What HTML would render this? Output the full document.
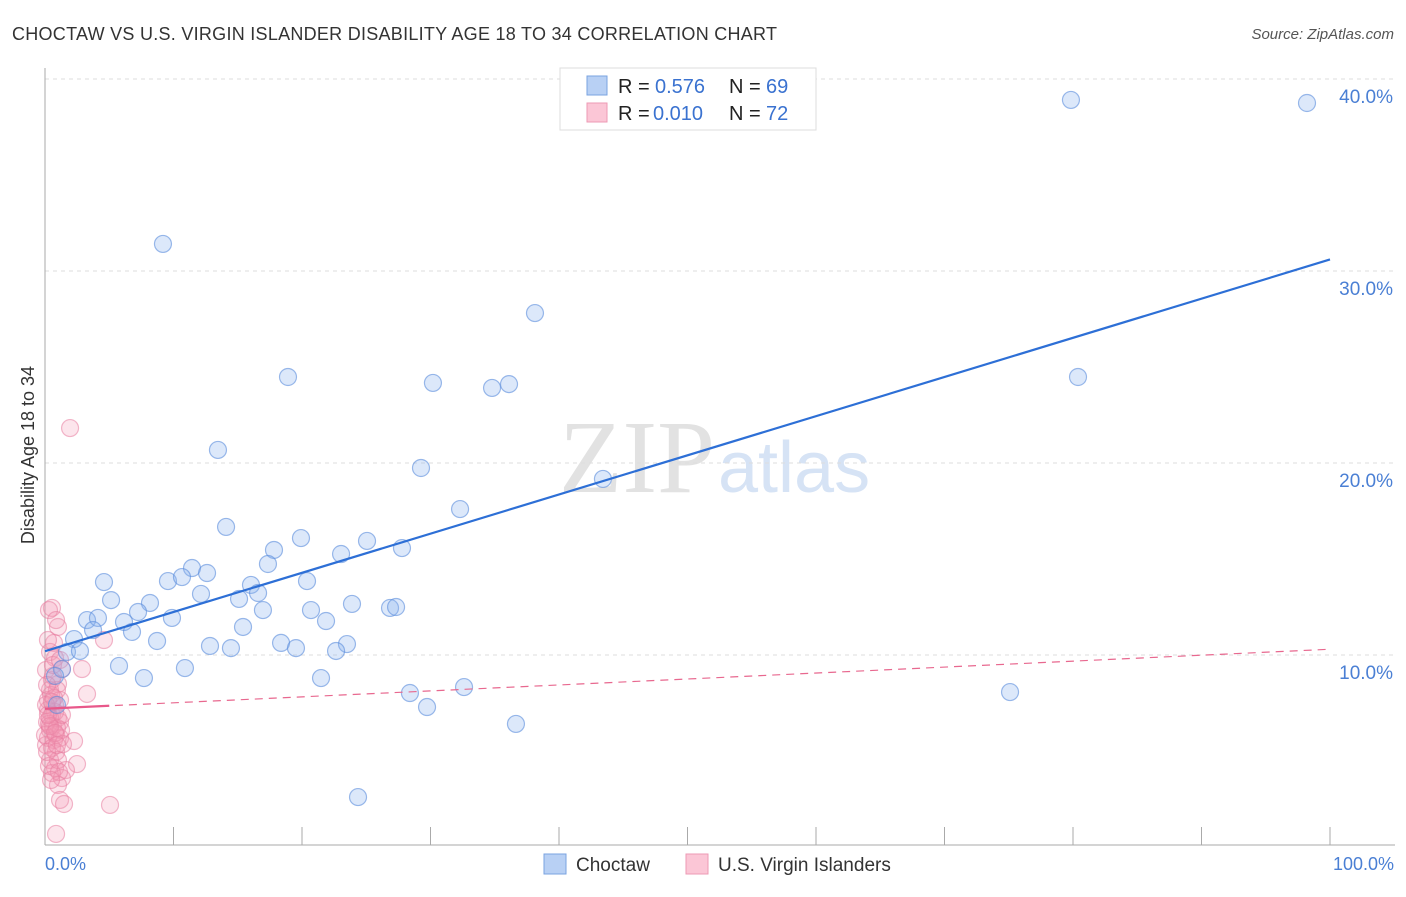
<!DOCTYPE html>
<html><head><meta charset="utf-8"><style>
body{margin:0;background:#fff;font-family:"Liberation Sans",sans-serif}
</style></head><body>
<svg width="1406" height="892" xmlns="http://www.w3.org/2000/svg" font-family="Liberation Sans, sans-serif">
<text x="12" y="40" font-size="18" fill="#333" textLength="765">CHOCTAW VS U.S. VIRGIN ISLANDER DISABILITY AGE 18 TO 34 CORRELATION CHART</text>
<text x="1394" y="39" font-size="15" fill="#555" text-anchor="end" font-style="italic">Source: ZipAtlas.com</text>
<text x="715" y="492" font-size="104" fill="#e2e2e2" text-anchor="end" font-family="Liberation Serif, serif">ZIP</text>
<text x="718" y="492" font-size="72" fill="#d6e3f5">atlas</text>
<g id="grid"></g><g id="axes"></g>
<g id="pink"></g><g id="blue"></g><g id="trend"></g>
<text transform="translate(34,455) rotate(-90)" font-size="18" fill="#333" text-anchor="middle">Disability Age 18 to 34</text>
<text x="45" y="870" font-size="18" fill="#4a7fd4">0.0%</text>
<text x="1394" y="870" font-size="18" fill="#4a7fd4" text-anchor="end">100.0%</text>
<g>
<rect x="560" y="68" width="256" height="62" fill="#fff" stroke="#ddd"/>
<rect x="587" y="76" width="20" height="19" fill="#b8d0f4" stroke="#7aa3e0"/>
<rect x="587" y="103" width="20" height="19" fill="#fbc6d6" stroke="#ee9ab4"/>
<text x="618" y="93" font-size="20" fill="#222">R =</text><text x="655" y="93" font-size="20" fill="#3a72d0">0.576</text>
<text x="729" y="93" font-size="20" fill="#222">N =</text><text x="766" y="93" font-size="20" fill="#3a72d0">69</text>
<text x="618" y="120" font-size="20" fill="#222">R =</text><text x="653" y="120" font-size="20" fill="#3a72d0">0.010</text>
<text x="729" y="120" font-size="20" fill="#222">N =</text><text x="766" y="120" font-size="20" fill="#3a72d0">72</text>
</g>
<g>
<rect x="544" y="854" width="22" height="20" fill="#b8d0f4" stroke="#7aa3e0"/>
<text x="576" y="871" font-size="19" fill="#333">Choctaw</text>
<rect x="686" y="854" width="22" height="20" fill="#fbc6d6" stroke="#ee9ab4"/>
<text x="718" y="871" font-size="19" fill="#333">U.S. Virgin Islanders</text>
</g>
</svg>
<script>
const yTicks=[10,20,30,40];
const yTickLabels=["10.0%","20.0%","30.0%","40.0%"];
const bluePx=[[163,244],[1071,100],[1307,103],[535,313],[288,377],[433,383],[492,388],[509,384],[1078,377],[218,450],[421,468],[603,479],[460,509],[226,527],[301,538],[274,550],[367,541],[341,554],[402,548],[268,564],[192,568],[104,582],[168,581],[182,577],[207,573],[307,581],[251,585],[258,593],[201,594],[239,599],[111,600],[150,603],[352,604],[263,610],[311,610],[390,608],[396,607],[87,620],[98,618],[138,612],[172,618],[124,622],[326,621],[93,630],[132,632],[243,627],[74,639],[157,641],[210,646],[231,648],[281,643],[296,648],[347,644],[336,651],[67,652],[80,651],[119,666],[185,668],[144,678],[321,678],[62,669],[55,676],[410,693],[464,687],[427,707],[516,724],[1010,692],[358,797],[57,705]];
const pinkPx=[[52,608],[49,610],[58,627],[54,643],[50,652],[55,658],[104,640],[70,428],[82,669],[62,669],[52,680],[58,684],[87,694],[50,690],[60,700],[55,705],[48,710],[52,715],[58,718],[47,722],[53,726],[60,722],[50,730],[56,735],[48,738],[54,740],[60,738],[46,745],[74,741],[56,752],[50,760],[77,764],[55,768],[66,770],[52,773],[62,778],[58,785],[60,800],[64,804],[110,805],[56,834],[48,700],[51,695],[57,690],[46,670],[53,676],[47,685],[55,712],[49,724],[61,730],[45,735],[52,748],[58,760],[49,766],[63,744],[54,698],[50,718],[57,728],[47,752],[59,772],[51,780],[46,705],[53,665],[60,660],[48,640],[56,620],[50,726],[55,733],[48,715],[52,702],[57,745],[62,715]];
const blueX=bluePx.map(p=>+((p[0]-45)/12.85).toFixed(2)), blueY=bluePx.map(p=>+((847-p[1])/19.2).toFixed(2));
const pinkX=pinkPx.map(p=>+((p[0]-45)/12.85).toFixed(2)), pinkY=pinkPx.map(p=>+((847-p[1])/19.2).toFixed(2));
const blueTrend=[10.2,30.6], pinkTrend=[7.2,10.3];
const X=v=>45+v*12.85, Y=v=>847-v*19.2;
const NS="http://www.w3.org/2000/svg";
function mk(t,a,parent){const e=document.createElementNS(NS,t);for(const k in a)e.setAttribute(k,a[k]);document.getElementById(parent).appendChild(e);return e;}
yTicks.forEach((v,i)=>{
 const l=mk('line',{x1:45,x2:1395,y1:Y(v),y2:Y(v),stroke:'#ddd','stroke-dasharray':'4,4'},'grid');
 
 
 const t=mk('text',{x:1393,y:Y(v)+24,'font-size':19,fill:'#4a7fd4','text-anchor':'end'},'grid');
 t.textContent=yTickLabels[i];
 
 
});
let a=mk('line',{x1:45,x2:45,y1:68,y2:845,stroke:'#aaa'},'axes');


a=mk('line',{x1:45,x2:1395,y1:845,y2:845,stroke:'#aaa'},'axes');


for(let v=10;v<=100;v+=10){const t=mk('line',{x1:X(v),x2:X(v),y1:827,y2:845,stroke:'#aaa'},'axes');
 
 }
pinkX.forEach((x,i)=>{const c=mk('circle',{cx:X(x),cy:Y(pinkY[i]),r:8.5,fill:'rgba(245,150,180,0.25)',stroke:'rgba(232,125,160,0.55)','stroke-width':1.2},'pink');
 
 });
blueX.forEach((x,i)=>{const c=mk('circle',{cx:X(x),cy:Y(blueY[i]),r:8.5,fill:'rgba(140,180,240,0.3)',stroke:'rgba(90,140,220,0.6)','stroke-width':1.2},'blue');
 
 });
let t=mk('line',{x1:X(0),y1:Y(blueTrend[0]),x2:X(100),y2:Y(blueTrend[1]),stroke:'#2d6fd6','stroke-width':2.2},'trend');


t=mk('line',{x1:X(0),y1:Y(pinkTrend[0]),x2:X(100),y2:Y(pinkTrend[1]),stroke:'#e8688f','stroke-width':1.2,'stroke-dasharray':'8,6'},'trend');


const f=v=>pinkTrend[0]+(pinkTrend[1]-pinkTrend[0])*v/100;
t=mk('line',{x1:X(0),y1:Y(f(0)),x2:X(5),y2:Y(f(5)),stroke:'#e8588a','stroke-width':2.2},'trend');


</script>
</body></html>
